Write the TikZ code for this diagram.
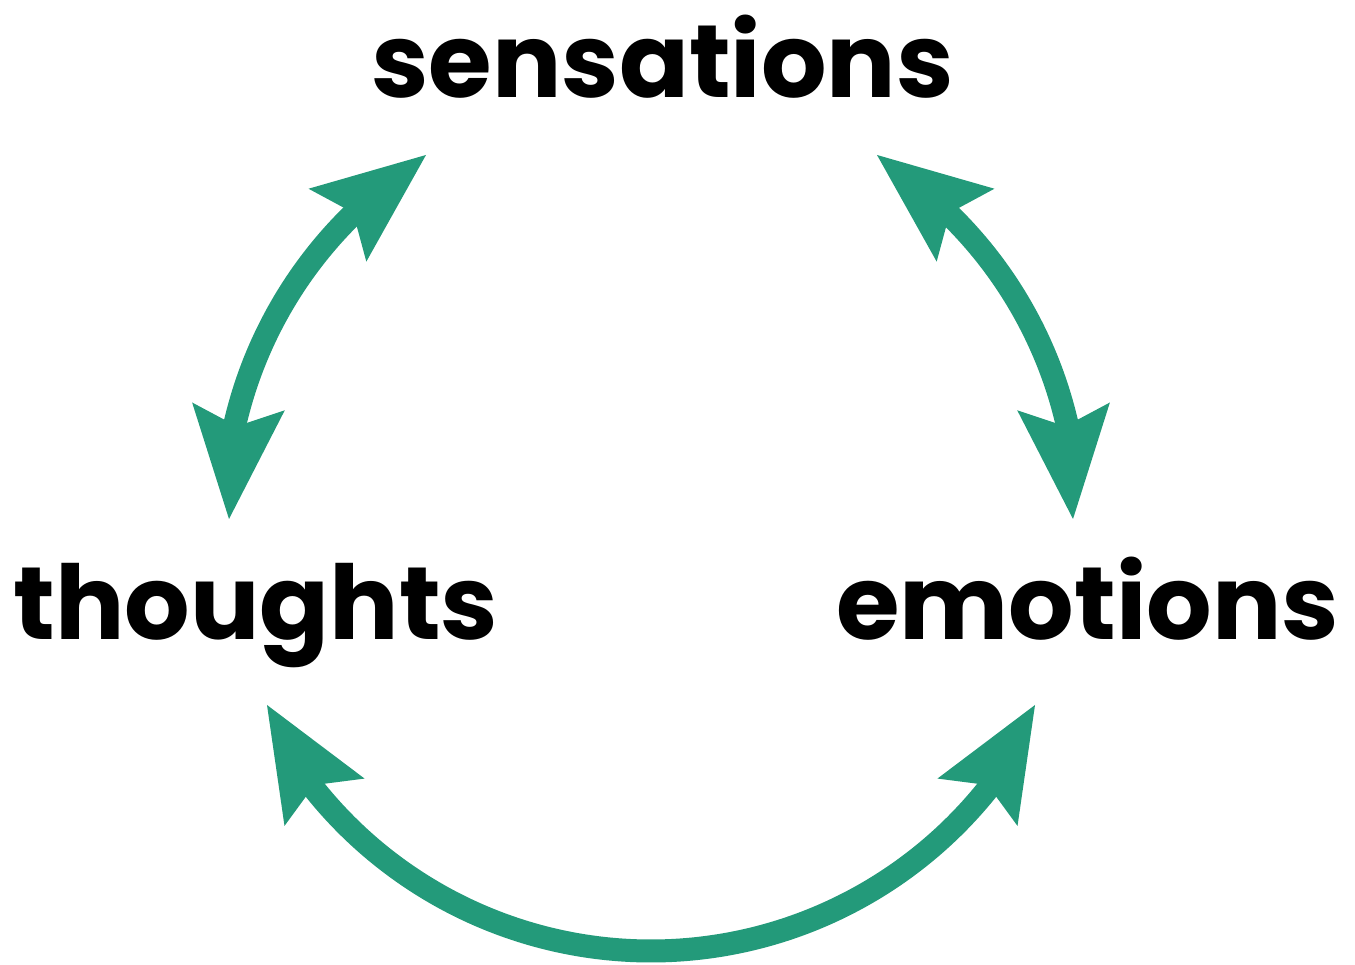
\documentclass[tikz,border=0pt]{standalone}
\usepackage{fontspec}
\setmainfont{Poppins}[UprightFont=* Bold]
\usetikzlibrary{calc}
\definecolor{cyclegreen}{HTML}{239A7A}
\tikzset{
  label/.style={font=\fontsize{103}{110}\selectfont, anchor=base, inner sep=0pt},
  shaft/.style={draw=cyclegreen, line width=23pt},
  headfill/.style={fill=cyclegreen}
}
% arrowhead: #1 = tip coordinate, #2 = direction the head points to
\newcommand\cyclehead[2]{%
  \fill[headfill] (#1) -- ($(#1)+(#2+157.63:122.2)$) -- ($(#1)+(#2+180:93)$)
    -- ($(#1)+(#2+202.37:122.2)$) -- cycle;}
\begin{document}
\begin{tikzpicture}[x=1pt,y=1pt]
\useasboundingbox (0,0) rectangle (1355,965);
\node[label] (sens) at (662.5,867) {sensations};
\node[label] (thou) at (256,325) {thoughts};
\node[label] (emot) at (1087.5,325) {emotions};
\coordinate (c) at (651,445);
% tips
\coordinate (tl) at (229,446);
\coordinate (ts) at (426,810);
\coordinate (es) at (877,810);
\coordinate (er) at (1073,446);
\coordinate (bl) at (267,260);
\coordinate (br) at (1035,260);
% shafts: arcs round (c)
\draw[shaft] ($(c)+(168.5:427)$) arc[start angle=168.5, end angle=133, radius=427];
\draw[shaft] ($(c)+(47:427)$) arc[start angle=47, end angle=11.5, radius=427];
\draw[shaft] ($(c)+(216:431)$) arc[start angle=216, end angle=324, radius=431];
% heads
\cyclehead{tl}{265.2}
\cyclehead{ts}{38.4}
\cyclehead{es}{141.6}
\cyclehead{er}{274.8}
\cyclehead{bl}{120.6}
\cyclehead{br}{59.4}
\end{tikzpicture}
\end{document}
